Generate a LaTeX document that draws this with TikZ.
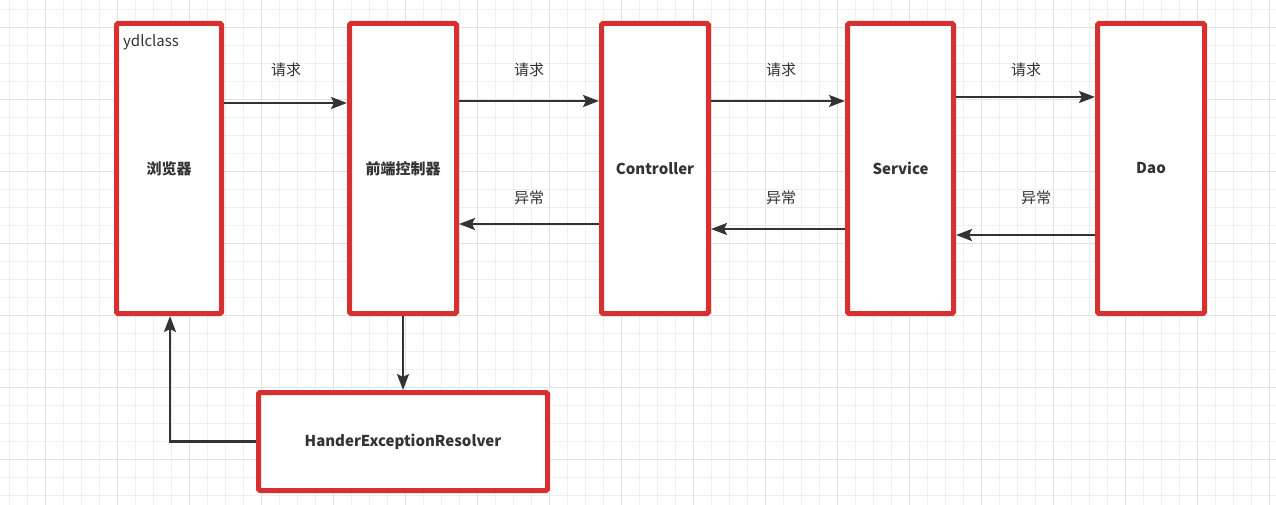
\documentclass[tikz,border=0pt]{standalone}
\usepackage{fontspec}
\setmainfont{Noto Sans CJK SC}
\usetikzlibrary{arrows.meta}
\definecolor{boxred}{HTML}{D63030}
\definecolor{ink}{HTML}{333333}
\definecolor{gridminor}{HTML}{EFEFEF}
\definecolor{gridmajor}{HTML}{E2E2E2}
\begin{document}
\begin{tikzpicture}[x=1pt,y=-1pt,
  box/.style={draw=boxred,line width=5pt,fill=white,rectangle,inner sep=0pt,rounded corners=1.5pt,
    font=\fontsize{15}{18}\selectfont\bfseries,text=ink},
  conn/.style={draw=ink,line width=2.2pt,-{Stealth[length=16pt,width=12pt,inset=3pt]}},
  lab/.style={font=\fontsize{15}{18}\selectfont,text=ink,inner sep=0pt}]
\useasboundingbox (0,0) rectangle (1276,505);
\fill[white] (0,0) rectangle (1276,505);
\foreach \x in {9,27,...,1275} \draw[gridminor,line width=0.8pt] (\x,0) -- (\x,505);
\foreach \y in {9,27,...,504} \draw[gridminor,line width=0.8pt] (0,\y) -- (1276,\y);
\foreach \x in {45,117,...,1275} \draw[gridmajor,line width=0.9pt] (\x,0) -- (\x,505);
\foreach \y in {27,99,...,504} \draw[gridmajor,line width=0.9pt] (0,\y) -- (1276,\y);

\node[box,minimum width=105pt,minimum height=290pt] (b) at (169,168.5) {浏览器};
\node[box,minimum width=107pt,minimum height=290pt] (f) at (403,168.5) {前端控制器};
\node[box,minimum width=107pt,minimum height=290pt] (c) at (655,168.5) {Controller};
\node[box,minimum width=106pt,minimum height=290pt] (s) at (900.5,168.5) {Service};
\node[box,minimum width=107pt,minimum height=290pt] (d) at (1151,168.5) {Dao};
\node[box,minimum width=289pt,minimum height=98pt] (h) at (403,441.5) {HanderExceptionResolver};

\node[anchor=west,inner sep=0pt,text=ink,font=\fontsize{15}{18}\selectfont] (yd) at (123,42) {ydlclass};

\draw[conn] (b.east |- 0,103) -- (f.west |- 0,103);
\draw[conn] (f.east |- 0,101) -- (c.west |- 0,101);
\draw[conn] (c.east |- 0,101) -- (s.west |- 0,101);
\draw[conn] (s.east |- 0,97) -- (d.west |- 0,97);
\draw[conn] (c.west |- 0,224) -- (f.east |- 0,224);
\draw[conn] (s.west |- 0,229) -- (c.east |- 0,229);
\draw[conn] (d.west |- 0,235) -- (s.east |- 0,235);
\draw[conn] (f.south) -- (h.north);
\draw[conn] (h.west) -| (b.south -| 170,0);

\node[lab] (l1) at (286,70) {请求};
\node[lab] (l2) at (529,70) {请求};
\node[lab] (l3) at (781,70) {请求};
\node[lab] (l4) at (1026,70) {请求};
\node[lab] (l5) at (529,198) {异常};
\node[lab] (l6) at (781,198) {异常};
\node[lab] (l7) at (1036,198) {异常};
\end{tikzpicture}
\end{document}
